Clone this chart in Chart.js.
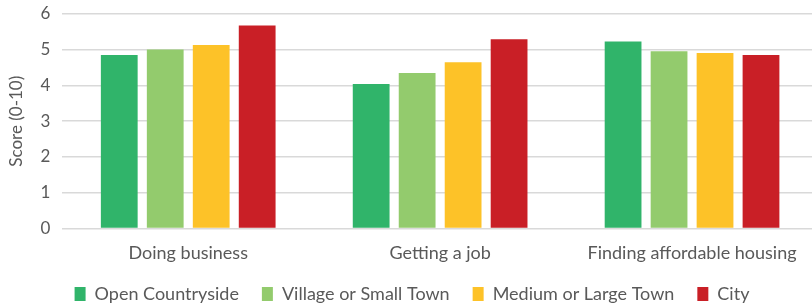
<!DOCTYPE html>
<html>
<head>
<meta charset="utf-8">
<script src="https://cdn.jsdelivr.net/npm/chart.js@4/dist/chart.umd.min.js"></script>
<style>
  html, body { margin: 0; padding: 0; background: #fff; overflow: hidden; }
  #wrap { width: 820px; height: 307px; position: relative; }
</style>
</head>
<body>
<div id="wrap"><canvas id="scores"></canvas></div>
<script>
// categories and series
const categories = ["Doing business", "Getting a job", "Finding affordable housing"];
const openCountryside = [4.85, 4.04, 5.23];
const villageSmallTown = [5.01, 4.35, 4.96];
const mediumLargeTown = [5.13, 4.65, 4.91];
const city = [5.68, 5.29, 4.85];
const yTicks = [0, 1, 2, 3, 4, 5, 6];

const grey = "#595959";
const font = "Lato, 'Open Sans', sans-serif";
const legendPad = 23;

const ctx = document.getElementById("scores").getContext("2d");

//legend keeps wide gaps between items but takes little room in the layout,
//then its box is moved so the row sits near the bottom edge
const legendHeight = 37, legendRowFromBottom = 45;
const legendSqueeze = {
  id: "legendSqueeze",
  beforeInit(chart) {
    const fit = chart.legend.fit;
    chart.legend.fit = function () {
      fit.call(this);
      this.height = legendHeight;
    };
  },
  afterLayout(chart) {
    chart.legend.top = chart.height - legendRowFromBottom;
    chart.legend.bottom = chart.height;
  },
};

new Chart(ctx, {
  type: "bar",
  data: {
    labels: categories,
    datasets: [
      { label: "Open Countryside", data: openCountryside, backgroundColor: "#30B46A" },
      { label: "Village or Small Town", data: villageSmallTown, backgroundColor: "#93CB6D" },
      { label: "Medium or Large Town", data: mediumLargeTown, backgroundColor: "#FDC228" },
      { label: "City", data: city, backgroundColor: "#C91F26" },
    ],
  },
  options: {
    responsive: true,
    maintainAspectRatio: false,
    animation: false,
    datasets: {
      bar: { categoryPercentage: 0.73, barPercentage: 0.8 },
    },
    layout: { padding: { top: 14, right: 2, left: 6, bottom: 0 } },
    plugins: {
      legend: {
        position: "bottom",
        labels: {
          color: grey,
          font: { family: font, size: 18 },
          boxWidth: 11,
          boxHeight: 14,
          padding: legendPad,
        },
      },
      tooltip: { enabled: false },
    },
    scales: {
      x: {
        grid: { display: false },
        border: { display: false },
        ticks: { color: grey, font: { family: font, size: 18 }, padding: 6 },
      },
      y: {
        min: 0,
        max: 6,
        afterBuildTicks: (axis) => { axis.ticks = yTicks.map(v => ({ value: v })); },
        afterFit: (axis) => { axis.paddingTop = 0; axis.paddingBottom = 0; },
        grid: { color: "#D9D9D9", lineWidth: 1.5, drawTicks: false },
        border: { display: false },
        ticks: { color: grey, font: { family: font, size: 17 }, padding: 12 },
        title: {
          display: true,
          text: "Score (0-10)",
          color: grey,
          font: { family: font, size: 17 },
          padding: { top: 0, bottom: 2 },
        },
      },
    },
  },
  plugins: [legendSqueeze],
});
</script>
</body>
</html>
